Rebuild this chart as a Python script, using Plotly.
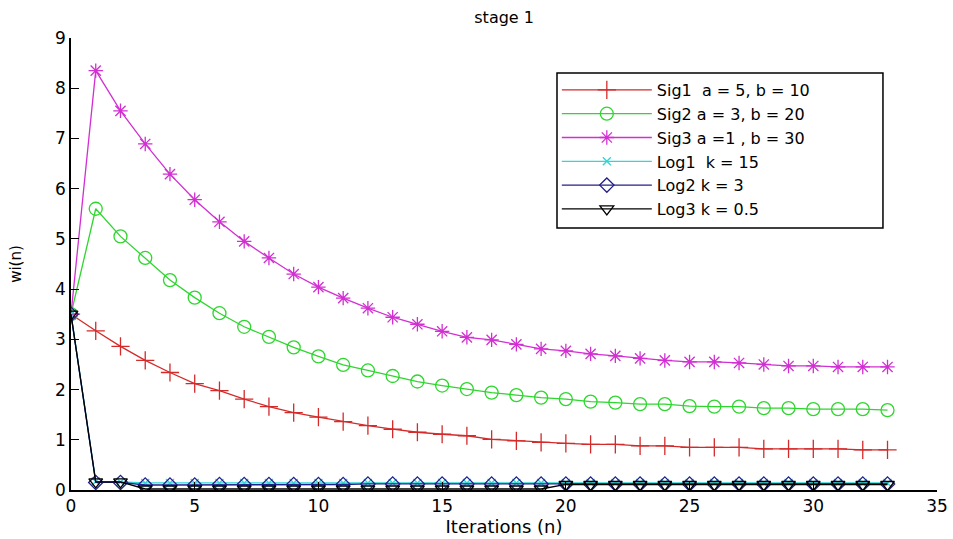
import plotly.graph_objects as go

n = list(range(34))

sig1 = [3.5, 3.17, 2.86, 2.58, 2.34, 2.12, 1.98, 1.81, 1.66, 1.54, 1.45, 1.36, 1.28, 1.21, 1.15, 1.11, 1.08,
        1.01, 0.98, 0.95, 0.93, 0.91, 0.91, 0.88, 0.88, 0.85, 0.85, 0.85, 0.82, 0.82, 0.82, 0.82, 0.80, 0.80]
sig2 = [3.5, 5.6, 5.05, 4.62, 4.18, 3.83, 3.52, 3.25, 3.05, 2.84, 2.66, 2.49, 2.38, 2.27, 2.16, 2.08, 2.01,
        1.94, 1.89, 1.84, 1.81, 1.76, 1.74, 1.71, 1.71, 1.67, 1.66, 1.66, 1.63, 1.63, 1.61, 1.61, 1.61, 1.59]
sig3 = [3.5, 8.35, 7.55, 6.89, 6.29, 5.78, 5.34, 4.95, 4.62, 4.3, 4.04, 3.82, 3.62, 3.44, 3.3, 3.16, 3.04,
        2.99, 2.9, 2.81, 2.77, 2.71, 2.67, 2.62, 2.58, 2.55, 2.55, 2.53, 2.5, 2.47, 2.47, 2.45, 2.45, 2.45]
log1 = [3.5, 0.17, 0.16, 0.14, 0.14, 0.14, 0.14, 0.14, 0.14, 0.14, 0.14, 0.14, 0.14, 0.14, 0.14, 0.14, 0.14,
        0.14, 0.14, 0.14, 0.14, 0.14, 0.14, 0.14, 0.14, 0.14, 0.14, 0.14, 0.14, 0.14, 0.14, 0.14, 0.14, 0.14]
log2 = [3.5, 0.15, 0.15, 0.10, 0.10, 0.10, 0.11, 0.11, 0.11, 0.11, 0.11, 0.11, 0.12, 0.12, 0.12, 0.12, 0.12,
        0.12, 0.12, 0.12, 0.12, 0.12, 0.12, 0.12, 0.12, 0.12, 0.12, 0.12, 0.12, 0.12, 0.12, 0.12, 0.12, 0.12]
log3 = [3.5, 0.16, 0.16, 0.02, 0.02, 0.02, 0.02, 0.02, 0.02, 0.02, 0.02, 0.02, 0.02, 0.02, 0.02, 0.02, 0.02,
        0.02, 0.02, 0.02, 0.11, 0.11, 0.11, 0.11, 0.11, 0.11, 0.11, 0.11, 0.11, 0.11, 0.11, 0.11, 0.11, 0.11]

names = ["Sig1  a = 5, b = 10", "Sig2 a = 3, b = 20", "Sig3 a =1 , b = 30",
         "Log1  k = 15", "Log2 k = 3", "Log3 k = 0.5"]
series = [sig1, sig2, sig3, log1, log2, log3]
colors = ["#d42a2a", "#2ed62e", "#d22fd2", "#33d6d6", "#20208a", "#000000"]
symbols = ["cross-thin-open", "circle-open", "asterisk-open", "x-thin-open", "diamond-open", "triangle-down-open"]
sizes = [13, 13, 12, 8, 11, 12]

fig = go.Figure()
for name, ys, c, s, sz in zip(names, series, colors, symbols, sizes):
    fig.add_trace(go.Scatter(
        x=n, y=ys, name=name, mode="lines+markers",
        line=dict(color=c, width=1.3),
        marker=dict(symbol=s, size=sz, color=c, line=dict(color=c, width=1.3)),
    ))

font = "DejaVu Sans, Verdana, sans-serif"
fig.update_layout(
    width=953, height=539,
    paper_bgcolor="white", plot_bgcolor="white",
    margin=dict(l=71, r=16, t=38, b=49, autoexpand=False),
    font=dict(family=font, size=17, color="black"),
    title=dict(text="stage 1", x=0.529, xanchor="center", y=0.967, yanchor="middle",
               font=dict(size=16, family=font, color="black")),
    xaxis=dict(range=[0, 35], tickvals=[0, 5, 10, 15, 20, 25, 30, 35],
               ticks="inside", ticklen=8, tickcolor="black", tickwidth=1, automargin=False,
               showline=True, linecolor="black", linewidth=1.5, showgrid=False, zeroline=False,
               title=dict(text="Iterations (n)", font=dict(size=18, family=font), standoff=2),
               tickfont=dict(size=17)),
    yaxis=dict(range=[0, 9], tickvals=list(range(10)), automargin=False,
               ticks="inside", ticklen=8, tickcolor="black", tickwidth=1,
               showline=True, linecolor="black", linewidth=1.5, showgrid=False, zeroline=False,
               title=dict(text="wi(n)", font=dict(size=15, family=font), standoff=30),
               tickfont=dict(size=17)),
    legend=dict(x=0.561, y=0.9226, xanchor="left", yanchor="top",
                borderwidth=0, bgcolor="rgba(0,0,0,0)",
                font=dict(size=16, family=font), itemwidth=90, tracegroupgap=0),
    showlegend=True,
    shapes=[dict(type="rect", xref="paper", yref="paper",
                 x0=0.5612, x1=0.9376, y0=0.5796, y1=0.9226,
                 line=dict(color="black", width=1.5), fillcolor="white", layer="below")],
)

fig.write_html("out.html", config={"displayModeBar": False},
               post_script="document.body.style.margin='0';document.body.style.overflow='hidden';")
